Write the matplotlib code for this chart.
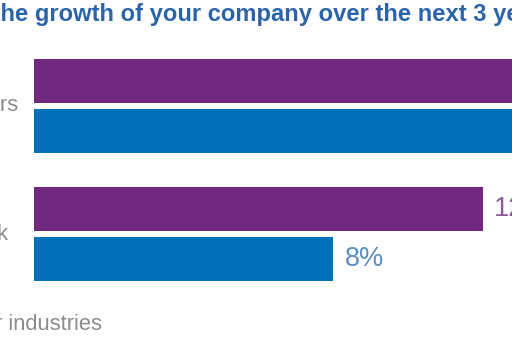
import matplotlib
matplotlib.use("Agg")
import matplotlib.pyplot as plt

plt.rcParams['font.family'] = ['Liberation Sans', 'DejaVu Sans']

# data
title = "How confident are you about the growth of your company over the next 3 years?"
groups = ["Next 3 years", "Global outlook"]
series = ["Technology", "All other industries"]
tech_vals = [16, 12]
other_vals = [15, 8]

purple = "#72287f"
blue = "#0070b9"

W, H = 512, 341
fig = plt.figure(figsize=(W / 100, H / 100), dpi=100)
ax = fig.add_axes([0, 0, 1, 1])

# pixel mapping: value 0 at x=34px, 37.4px per percent; group centres 106px / 234px
px_per = 37.4
x0 = 34
ax.set_xlim(-x0 / px_per, (W - x0) / px_per)
y_c0, y_step = 106, 128
ax.set_ylim((H - y_c0) / y_step, -y_c0 / y_step)
ax.axis('off')

off = 0.197
bh = 44 / y_step
pos = list(range(len(groups)))
ax.barh([p - off for p in pos], tech_vals, height=bh, color=purple)
ax.barh([p + off for p in pos], other_vals, height=bh, color=blue)

for p, v in zip(pos, tech_vals):
    ax.text(v + 0.3, p - off, f"{v}%", va='center', ha='left', fontsize=19.5, color="#8b5a98")
for p, v in zip(pos, other_vals):
    ax.text(v + 0.3, p + off, f"{v}%", va='center', ha='left', fontsize=19.5, color="#5a8fc2")

fig.canvas.draw()
r = fig.canvas.get_renderer()


def place_left_cut(text, visible, x_px, y_px, **kw):
    # put the part of `text` after the cut so that `visible` starts at x_px
    prefix = text[:text.index(visible)]
    t = fig.text(0, 0, prefix, **kw)
    w = t.get_window_extent(r).width if prefix else 0
    t.remove()
    fig.text((x_px - w) / W, 1 - y_px / H, text, ha='left', va='center', **kw)


place_left_cut(title, "he growth", 0, 15, fontsize=17.1, fontweight='bold', color="#2b64a8")

gray = "#8c8c8c"
# category labels: last letters visible at the left edge
place_left_cut(groups[0], "rs", 0, 106, fontsize=15.8, color=gray)
place_left_cut(groups[1], "k", -3, 234, fontsize=15.8, color=gray)

# legend text (marker off canvas on the left)
place_left_cut(series[1], "industries", 8, 324, fontsize=15.8, color=gray)

fig.savefig("out.png", dpi=100)
